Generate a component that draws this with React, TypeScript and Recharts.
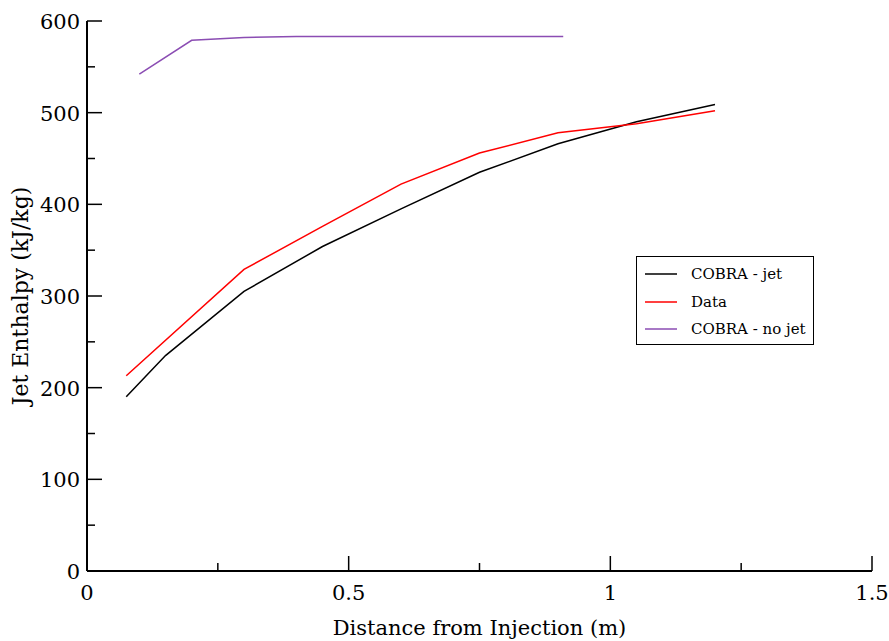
import { LineChart, Line, XAxis, YAxis } from "recharts";

// distance from injection (m) vs jet enthalpy (kJ/kg)
const jetX = [0.075, 0.15, 0.3, 0.45, 0.6, 0.75, 0.9, 1.05, 1.2];
const jetH = [190, 235, 305, 354, 395, 435, 466, 490, 509];
const measX = [0.075, 0.3, 0.45, 0.6, 0.75, 0.9, 1.05, 1.2];
const measH = [213, 329, 376, 422, 456, 478, 488, 502];
const noJetX = [0.1, 0.2, 0.3, 0.4, 0.91];
const noJetH = [542, 579, 582, 583, 583];

const xTicks = [0, 0.25, 0.5, 0.75, 1, 1.25, 1.5];
const yTicks = [0, 50, 100, 150, 200, 250, 300, 350, 400, 450, 500, 550, 600];

const FONT = "DejaVu Serif";
const PURPLE = "#8b4db3";

const series = [
  { name: "COBRA - jet", color: "#000000", xs: jetX, ys: jetH },
  { name: "Data", color: "#ff0000", xs: measX, ys: measH },
  { name: "COBRA - no jet", color: PURPLE, xs: noJetX, ys: noJetH },
];

const isMajorX = (v: number) => Math.abs(v * 2 - Math.round(v * 2)) < 1e-6;
const isMajorY = (v: number) => v % 100 === 0;

function BottomTick(props: any) {
  const { x, y, payload } = props;
  const major = isMajorX(payload.value);
  return (
    <g>
      <line x1={x} y1={y} x2={x} y2={y - (major ? 15 : 8)} stroke="#000" strokeWidth={1.5} />
      {major && (
        <text x={x} y={y + 29} textAnchor="middle" fontFamily={FONT} fontSize={21} fill="#000">
          {payload.value}
        </text>
      )}
    </g>
  );
}

function TopTick(props: any) {
  const { x, y, payload } = props;
  const major = isMajorX(payload.value);
  return <line x1={x} y1={y} x2={x} y2={y + (major ? 15 : 8)} stroke="#000" strokeWidth={1.5} />;
}

function LeftTick(props: any) {
  const { x, y, payload } = props;
  const major = isMajorY(payload.value);
  return (
    <g>
      <line x1={x} y1={y} x2={x + (major ? 15 : 8)} y2={y} stroke="#000" strokeWidth={1.5} />
      {major && (
        <text x={x - 7} y={y + 8} textAnchor="end" fontFamily={FONT} fontSize={21} fill="#000">
          {payload.value}
        </text>
      )}
    </g>
  );
}

function RightTick(props: any) {
  const { x, y, payload } = props;
  const major = isMajorY(payload.value);
  return <line x1={x} y1={y} x2={x - (major ? 15 : 8)} y2={y} stroke="#000" strokeWidth={1.5} />;
}

export default function App() {
  return (
    <div style={{ position: "absolute", left: 0, top: 0, width: 889, height: 641, background: "#fff" }}>
      <LineChart width={889} height={641} margin={{ top: 21, right: 17, bottom: 0, left: 0 }}>
        <XAxis
          xAxisId="b"
          type="number"
          dataKey="x"
          domain={[0, 1.5]}
          ticks={xTicks}
          height={70}
          tickSize={0}
          tickMargin={0}
          tick={<BottomTick />}
          axisLine={{ stroke: "#000", strokeWidth: 2 }}
          tickLine={false}
          interval={0}
          allowDataOverflow
          label={{ value: "Distance from Injection (m)", position: "insideBottom", offset: 6, fontFamily: FONT, fontSize: 21, fill: "#000" }}
        />
        <XAxis
          xAxisId="t"
          orientation="top"
          type="number"
          dataKey="x"
          domain={[0, 1.5]}
          ticks={xTicks}
          height={0}
          tickSize={0}
          tickMargin={0}
          tick={<TopTick />}
          axisLine={{ stroke: "#000", strokeWidth: 2 }}
          tickLine={false}
          interval={0}
          allowDataOverflow
        />
        <YAxis
          yAxisId="l"
          type="number"
          domain={[0, 600]}
          ticks={yTicks}
          width={87}
          tickSize={0}
          tickMargin={0}
          tick={<LeftTick />}
          axisLine={{ stroke: "#000", strokeWidth: 2 }}
          tickLine={false}
          interval={0}
          label={{ value: "Jet Enthalpy (kJ/kg)", angle: -90, position: "insideLeft", offset: 20, style: { textAnchor: "middle" }, fontFamily: FONT, fontSize: 22, fill: "#000" }}
        />
        <YAxis
          yAxisId="r"
          orientation="right"
          type="number"
          domain={[0, 600]}
          ticks={yTicks}
          width={0}
          tickSize={0}
          tickMargin={0}
          tick={<RightTick />}
          axisLine={{ stroke: "#000", strokeWidth: 2 }}
          tickLine={false}
          interval={0}
        />
        {series.map((s) => (
          <Line
            key={s.name}
            xAxisId="b"
            yAxisId="l"
            data={s.xs.map((x, i) => ({ x, y: s.ys[i] }))}
            dataKey="y"
            name={s.name}
            type="linear"
            stroke={s.color}
            strokeWidth={1.5}
            dot={false}
            activeDot={false}
            isAnimationActive={false}
          />
        ))}
      </LineChart>
      <div
        style={{
          position: "absolute",
          left: 636,
          top: 256,
          width: 178,
          height: 89,
          border: "1.5px solid #000",
          background: "#fff",
          fontFamily: FONT,
          fontSize: 15,
          boxSizing: "border-box",
        }}
      >
        {series.map((s, i) => (
          <div
            key={s.name}
            style={{ position: "absolute", left: 8, top: 7 + i * 27.5, height: 20, display: "flex", alignItems: "center" }}
          >
            <svg width={32} height={4} style={{ marginRight: 14 }}>
              <line x1={0} y1={2} x2={32} y2={2} stroke={s.color} strokeWidth={1.5} />
            </svg>
            <span style={{ whiteSpace: "nowrap" }}>{s.name}</span>
          </div>
        ))}
      </div>
    </div>
  );
}
